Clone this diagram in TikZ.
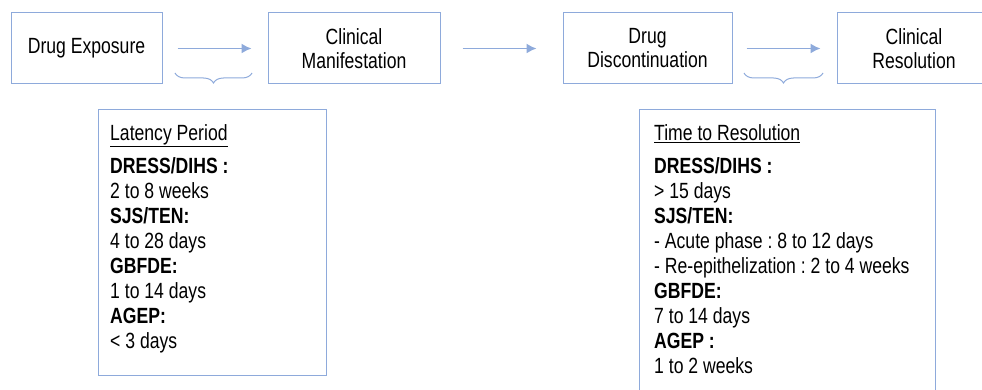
\documentclass[tikz,border=0pt]{standalone}
\usepackage{fontspec}
\setmainfont{Liberation Sans}[FakeStretch=0.8]
\usetikzlibrary{arrows.meta,decorations.pathreplacing}
\definecolor{boxblue}{RGB}{142,170,219}
\frenchspacing
\begin{document}
\begin{tikzpicture}[x=1pt,y=-1pt,
    stage/.style={draw=boxblue, line width=1pt, minimum height=71pt, align=center,
      font={\fontsize{22}{24}\selectfont}},
    infobox/.style={draw=boxblue, line width=1pt, anchor=north west},
    infotext/.style={anchor=north west, inner sep=0pt, align=left,
      font={\fontsize{22}{25}\selectfont}},
    flow/.style={draw=boxblue, line width=1.5pt, -{Latex[length=10pt,width=10pt]}},
    span/.style={draw=boxblue, line width=1pt, decorate,
      decoration={brace, mirror, amplitude=10pt}}]
        \clip (0,0) rectangle (982,390);
        % stages along the top
        \node[stage, minimum width=151pt] (expo) at (86.5,48.5) {Drug Exposure};
        \node[stage, minimum width=172pt] (manif) at (354,48.5) {Clinical\\Manifestation};
        \node[stage, minimum width=169pt] (discont) at (647.5,48.5) {Drug\\Discontinuation};
        \node[stage, minimum width=154pt] (resol) at (914,48.5) {Clinical\\Resolution};
        \draw[flow] ([xshift=15pt]expo.east) -- ([xshift=-16pt]manif.west);
        \draw[flow] ([xshift=22pt]manif.east) -- ([xshift=-26pt]discont.west);
        \draw[flow] ([xshift=14pt]discont.east) -- ([xshift=-16pt]resol.west);
        \draw[span] (175,73) -- (252,73);
        \draw[span] (744,73) -- (823,73);
        % latency box
        \node[infobox, minimum width=228pt, minimum height=266pt] (latbox) at (98,109) {};
        \node[infotext] (lattext) at ([xshift=12pt,yshift=-15pt]latbox.north west)
          {\underline{Latency Period}\\[8pt]
           \textbf{DRESS/DIHS :}\\
           2 to 8 weeks\\
           \textbf{SJS/TEN:}\\
           4 to 28 days\\
           \textbf{GBFDE:}\\
           1 to 14 days\\
           \textbf{AGEP:}\\
           < 3 days};
        % resolution box
        \node[infobox, minimum width=296pt, minimum height=300pt] (resbox) at (639,109) {};
        \node[infotext] (restext) at ([xshift=15pt,yshift=-15pt]resbox.north west)
          {\underline{Time to Resolution}\\[8pt]
           \textbf{DRESS/DIHS :}\\
           > 15 days\\
           \textbf{SJS/TEN:}\\
           - Acute phase : 8 to 12 days\\
           - Re-epithelization : 2 to 4 weeks\\
           \textbf{GBFDE:}\\
           7 to 14 days\\
           \textbf{AGEP :}\\
           1 to 2 weeks};
    \end{tikzpicture}
\end{document}
